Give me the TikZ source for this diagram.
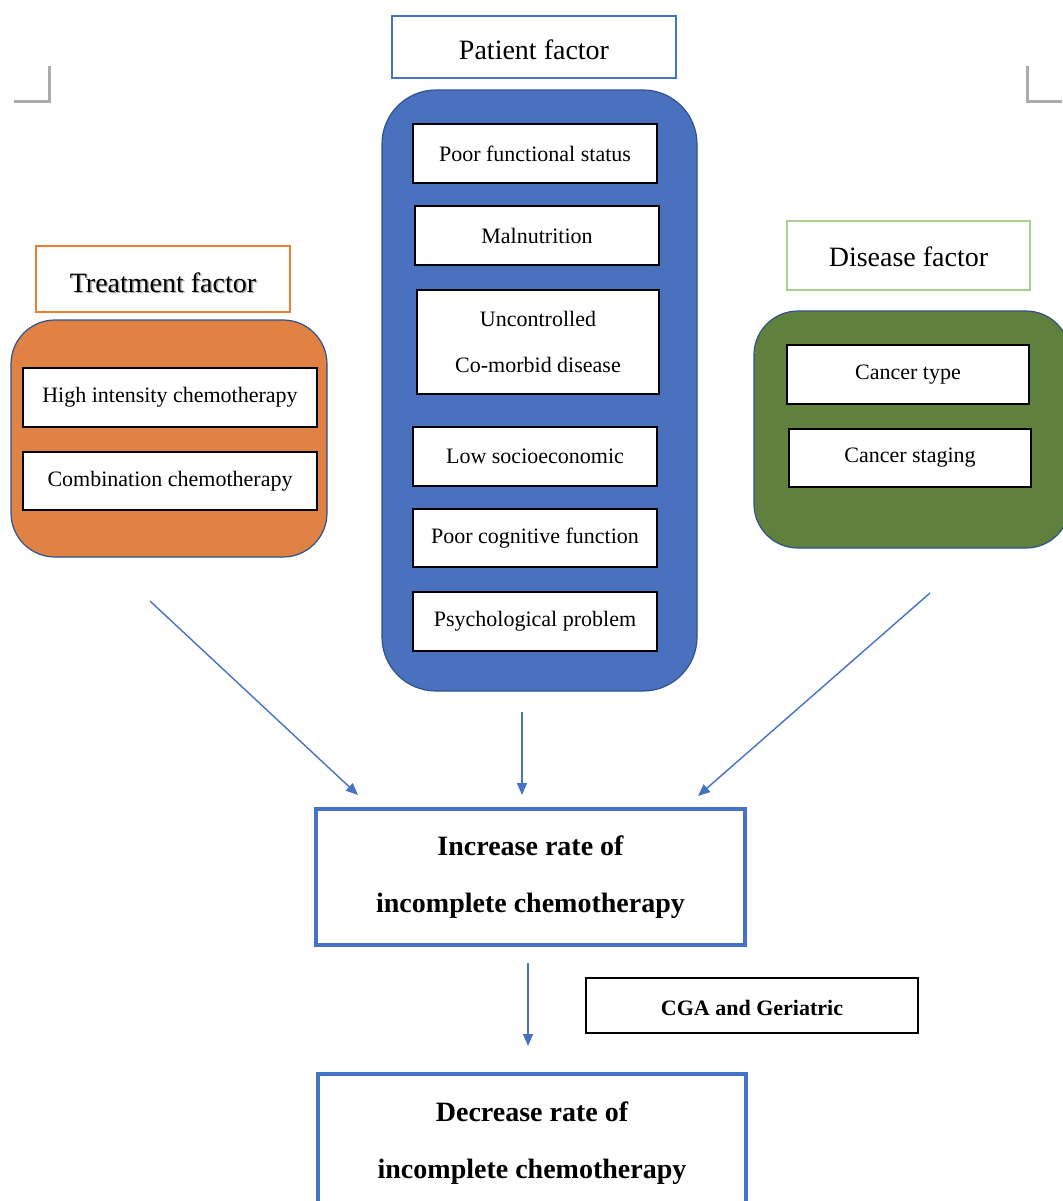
\documentclass[tikz,border=0pt]{standalone}
\usepackage{fontspec}
\setmainfont{Liberation Serif}
\usetikzlibrary{arrows.meta}
\definecolor{orangefill}{HTML}{E08244}
\definecolor{bluefill}{HTML}{4A71BE}
\definecolor{greenfill}{HTML}{5F813D}
\definecolor{outline}{HTML}{2F528F}
\definecolor{linkblue}{HTML}{4472C4}
\definecolor{orangeline}{HTML}{ED7D31}
\definecolor{greenline}{HTML}{A9D18E}
\definecolor{markgray}{HTML}{ABABAB}
\newcommand\shadowtext[1]{\makebox[0pt][l]{\raisebox{-0.7pt}{\hspace{0.7pt}\textcolor{black!30}{#1}}}#1}
\tikzset{
  item/.style={draw=black, line width=1pt, fill=white, font=\fontsize{11}{13}\selectfont, align=center, inner sep=0pt},
  head/.style={draw, line width=0.8pt, fill=white, font=\fontsize{14}{16}\selectfont, inner sep=0pt, text height=13pt},
  group/.style={draw=outline, line width=0.6pt, rounded corners=22pt, inner sep=0pt},
  result/.style={draw=linkblue, line width=1.6pt, fill=white, font=\bfseries\fontsize{14}{28.5}\selectfont, align=center, inner sep=0pt},
  flow/.style={draw=linkblue, line width=0.7pt, -{Triangle[length=6pt,width=5pt]}}
}
\begin{document}
\begin{tikzpicture}[x=0.5pt, y=-0.5pt]
  \useasboundingbox (0,0) rectangle (1062,1201);
  % crop marks
  \draw[markgray, line width=1.5pt] (14,101) -- (49,101) -- (49,66);
  \draw[markgray, line width=1.5pt] (1027,66) -- (1027,101) -- (1062,101);

  % patient factor
  \node[head, draw=linkblue, minimum width=142pt, minimum height=31pt] (patienthead) at (534,47) {Patient factor};
  \node[group, fill=bluefill, rounded corners=27pt, minimum width=157.5pt, minimum height=300.5pt] (patient) at (539.5,390.5) {};
  \node[item, minimum width=122pt, minimum height=29.5pt] (p1) at (535,153.5) {Poor functional status};
  \node[item, minimum width=122pt, minimum height=29.5pt] (p2) at (537,235.5) {Malnutrition};
  \node[item, font=\fontsize{11}{23}\selectfont, minimum width=121pt, minimum height=52pt] (p3) at (538,342) {Uncontrolled\\Co-morbid disease};
  \node[item, minimum width=122pt, minimum height=29.5pt] (p4) at (535,456.5) {Low socioeconomic};
  \node[item, minimum width=122pt, minimum height=29pt] (p5) at (535,538) {Poor cognitive function};
  \node[item, minimum width=122pt, minimum height=29.5pt] (p6) at (535,621.5) {Psychological problem};

  % treatment factor
  \node[head, draw=orangeline, minimum width=127pt, minimum height=33pt, text height=14pt] (treathead) at (163,279) {\shadowtext{Treatment factor}};
  \node[group, fill=orangefill, minimum width=158pt, minimum height=118.5pt] (treat) at (169,438.5) {};
  \node[item, minimum width=147pt, minimum height=29.5pt] (t1) at (170,397.5) {High intensity chemotherapy};
  \node[item, minimum width=147pt, minimum height=29pt] (t2) at (170,481) {Combination chemotherapy};

  % disease factor
  \node[head, draw=greenline, minimum width=121.5pt, minimum height=34.5pt, text height=11pt] (diseasehead) at (908.5,255.5) {Disease factor};
  \node[group, fill=greenfill, minimum width=158pt, minimum height=118.5pt] (disease) at (912,429.5) {};
  \node[item, minimum width=121pt, minimum height=29.5pt] (d1) at (908,374.5) {Cancer type};
  \node[item, minimum width=121pt, minimum height=29pt] (d2) at (910,458) {Cancer staging};

  % outcome
  \node[result, minimum width=214.5pt, minimum height=68pt] (increase) at (530.5,877) {Increase rate of\\incomplete chemotherapy};
  \node[item, font=\bfseries\fontsize{11}{13}\selectfont, text height=10.5pt, minimum width=166pt, minimum height=27.5pt] (cga) at (752,1005.5) {CGA and Geriatric};
  \node[result, minimum width=214pt, minimum height=69pt] (decrease) at (532,1143) {Decrease rate of\\incomplete chemotherapy};

  \coordinate (ts) at (150,601);
  \coordinate (te) at (358,795);
  \coordinate (ps) at (522,712);
  \coordinate (pe) at (522,795);
  \coordinate (ds) at (930,593);
  \coordinate (de) at (698,796);
  \coordinate (is) at (528,963);
  \coordinate (ie) at (528,1046);
  \draw[flow] (ts) -- (te);
  \draw[flow] (ps) -- (pe);
  \draw[flow] (ds) -- (de);
  \draw[flow] (is) -- (ie);
\end{tikzpicture}
\end{document}
